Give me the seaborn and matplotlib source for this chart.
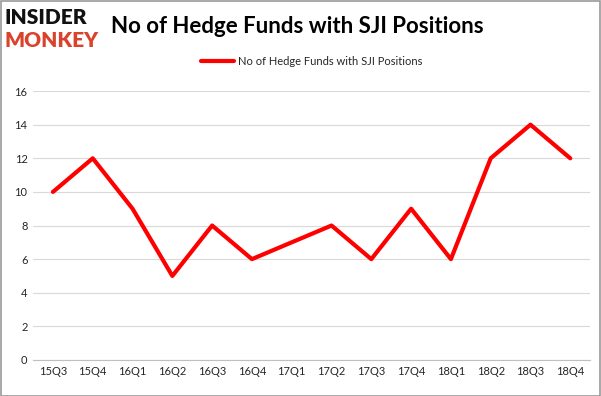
import matplotlib
matplotlib.use("Agg")
import matplotlib.pyplot as plt
import seaborn as sns
import pandas as pd

quarters = ["15Q3", "15Q4", "16Q1", "16Q2", "16Q3", "16Q4", "17Q1",
            "17Q2", "17Q3", "17Q4", "18Q1", "18Q2", "18Q3", "18Q4"]
funds = [10, 12, 9, 5, 8, 6, 7, 8, 6, 9, 6, 12, 14, 12]
y_ticks = [0, 2, 4, 6, 8, 10, 12, 14, 16]
series_name = "No of Hedge Funds with SJI Positions"

df = pd.DataFrame({"quarter": quarters, "funds": funds})
df["pos"] = range(len(quarters))

sns.set_style("white")
plt.rcParams["font.family"] = ["Lato", "DejaVu Sans"]

fig = plt.figure(figsize=(6.01, 3.96), dpi=100)
ax = fig.add_axes([0.055, 0.091, 0.927, 0.679])

sns.lineplot(data=df, x="pos", y="funds", color="#ff0000", linewidth=3,
             label=series_name, ax=ax)

ax.set_xlim(-0.5, len(quarters) - 0.5)
ax.set_ylim(0, 16)
ax.set_xticks(df["pos"])
ax.set_xticklabels(quarters)
ax.set_yticks(y_ticks)
ax.tick_params(axis="both", labelsize=8, length=0, pad=4)
ax.set_xlabel("")
ax.set_ylabel("")
ax.grid(axis="y", color="#d9d9d9", linewidth=0.8)
ax.set_axisbelow(True)
for side in ["top", "right", "left"]:
    ax.spines[side].set_visible(False)
ax.spines["bottom"].set_color("#bfbfbf")

leg = ax.legend(loc="upper center", bbox_to_anchor=(0.5, 1.168), frameon=False,
                fontsize=8, handlelength=3, handletextpad=0.4)

# logo and title
fig.text(0.008, 0.955, "INSIDER", fontsize=15, fontweight="heavy", color="#111111",
         va="center", ha="left")
fig.text(0.008, 0.898, "MONKEY", fontsize=15, fontweight="heavy", color="#d9432c",
         va="center", ha="left")
fig.text(0.495, 0.932, series_name, fontsize=16, fontweight="bold", color="#000000",
         va="center", ha="center")

fig.patches.append(plt.Rectangle((0.001, 0.001), 0.997, 0.997, transform=fig.transFigure,
                                 fill=False, edgecolor="#999999", linewidth=1.2))

fig.savefig("out.png", dpi=100)
